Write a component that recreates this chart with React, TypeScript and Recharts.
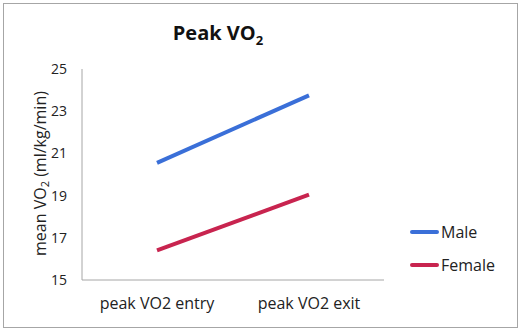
import React from "react";
import { LineChart, Line, XAxis, YAxis } from "recharts";

const categories = ["peak VO2 entry", "peak VO2 exit"];
const maleValues = [20.55, 23.75];
const femaleValues = [16.4, 19.05];
const yTicks = [15, 17, 19, 21, 23, 25];

const data = categories.map((name, i) => ({
  name,
  Male: maleValues[i],
  Female: femaleValues[i],
}));

const FONT = "'Open Sans', sans-serif";
const MALE_COLOR = "#3a6fd8";
const FEMALE_COLOR = "#c8244f";

const series = [
  { key: "Male", color: MALE_COLOR },
  { key: "Female", color: FEMALE_COLOR },
];

const YLabel = (props: any) => {
  const vb = props.viewBox || {};
  const cx = 40;
  const cy = vb.y + vb.height / 2 - 1;
  return (
    <text
      x={cx}
      y={cy}
      transform={`rotate(-90 ${cx} ${cy})`}
      textAnchor="middle"
      dominantBaseline="central"
      fontFamily={FONT}
      fontSize={16}
      fill="#222"
    >
      mean VO
      <tspan fontSize={11} dy={4}>2</tspan>
      <tspan dy={-4}> (ml/kg/min)</tspan>
    </text>
  );
};

const LegendBox = () => (
  <div
    style={{
      position: "absolute",
      left: 410,
      top: 215,
      fontFamily: FONT,
      fontSize: 16,
      color: "#222",
    }}
  >
    {series.map((it) => (
      <div key={it.key} style={{ display: "flex", alignItems: "center", height: 33 }}>
        <div
          style={{
            width: 29,
            height: 4,
            borderRadius: 2,
            background: it.color,
            marginRight: 2,
          }}
        />
        <span>{it.key}</span>
      </div>
    ))}
  </div>
);

export default function App() {
  return (
    <div
      style={{
        position: "fixed",
        left: 0,
        top: 0,
        width: 525,
        height: 333,
        background: "#fff",
      }}
    >
      <div
        style={{
          position: "absolute",
          left: 3,
          top: 3,
          width: 513,
          height: 323,
          border: "1px solid #a6a6a6",
        }}
      />
      <div
        style={{
          position: "absolute",
          left: 0,
          width: 436,
          top: 19,
          textAlign: "center",
          fontFamily: FONT,
          fontWeight: 700,
          fontSize: 20,
          color: "#111",
        }}
      >
        Peak VO<sub style={{ fontSize: 13, verticalAlign: "-5px" }}>2</sub>
      </div>
      <LineChart
        width={525}
        height={333}
        data={data}
        margin={{ top: 69, right: 141, bottom: 0, left: 0 }}
        style={{ position: "absolute", left: 0, top: 0 }}
      >
        <XAxis
          dataKey="name"
          height={53}
          tickLine={false}
          axisLine={{ stroke: "#a6a6a6" }}
          tickMargin={12}
          padding={{ left: 75, right: 75 }}
          tick={{ fontFamily: FONT, fontSize: 16, fill: "#222" }}
          interval={0}
        />
        <YAxis
          domain={[15, 25]}
          ticks={yTicks}
          width={82}
          tickLine={false}
          axisLine={{ stroke: "#a6a6a6" }}
          tickMargin={9}
          tick={{ fontFamily: FONT, fontSize: 14, fill: "#222" }}
          label={<YLabel />}
        />
        {series.map((s) => (
          <Line
            key={s.key}
            dataKey={s.key}
            stroke={s.color}
            strokeWidth={4}
            dot={false}
            isAnimationActive={false}
          />
        ))}
      </LineChart>
      <LegendBox />
    </div>
  );
}
